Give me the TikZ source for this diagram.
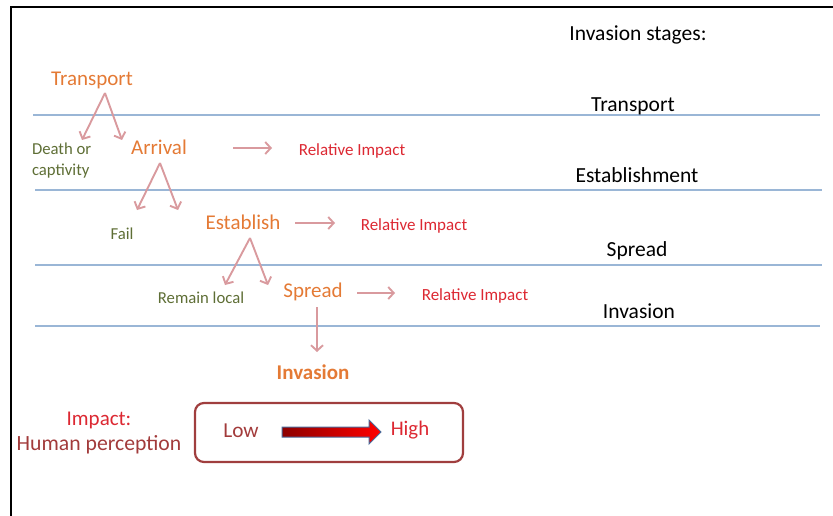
\documentclass[tikz,border=0pt]{standalone}
\usepackage{fontspec}
\setmainfont{Carlito}
\usetikzlibrary{arrows.meta}

\definecolor{stageorange}{HTML}{E47A35}
\definecolor{impactred}{HTML}{DC2832}
\definecolor{outcomegreen}{HTML}{5E6E35}
\definecolor{flowpink}{HTML}{D99A9E}
\definecolor{bandblue}{HTML}{9AB6D6}
\definecolor{boxred}{HTML}{A03E3E}
\definecolor{perceptred}{HTML}{A23B3B}
\definecolor{arrowedge}{HTML}{4A6A9A}

\tikzset{
  txt/.style={inner sep=0pt, outer sep=0pt, yshift=-1.5pt},
  stagename/.style={txt, font=\fontsize{21.5}{25}\selectfont},
  stage/.style={txt, text=stageorange, font=\fontsize{21}{25}\selectfont},
  outcome/.style={txt, text=outcomegreen, font=\fontsize{16.7}{20.5}\selectfont, align=left},
  relimpact/.style={txt, text=impactred, font=\fontsize{17}{20}\selectfont},
  band/.style={bandblue, line width=1.3pt},
  flow/.style={flowpink, line width=1.9pt, -{Straight Barb[length=5.5pt,width=12pt]}},
}

\begin{document}
\begin{tikzpicture}[x=1pt,y=-1pt]
\useasboundingbox (0,0) rectangle (833,516);

% frame
\draw[line width=2.4pt] (11,516) -- (11,7) -- (833,7);

% stage bands
\draw[band] (33,115) -- (820,115);
\draw[band] (35,190) -- (822,190);
\draw[band] (35,265) -- (822,265);
\draw[band] (35,326) -- (820,326);

% stage names on the right
\node[stagename] (title) at (638,33) {Invasion stages:};
\node[stagename] (sTransport) at (633,105) {Transport};
\node[stagename] (sEstablishment) at (637,174) {Establishment};
\node[stagename] (sSpread) at (637,249) {Spread};
\node[stagename] (sInvasion) at (639,310) {Invasion};

% pathway stages
\node[stage] (transport) at (92,79) {Transport};
\node[stage] (arrival) at (159,146) {Arrival};
\node[stage] (establish) at (243,221) {Establish};
\node[stage] (spread) at (313,290) {Spread};
\node[stage, font=\bfseries\fontsize{21}{25}\selectfont] (invasion) at (313,371) {Invasion};

% outcomes that leave the pathway
\node[outcome, anchor=west] (death) at (32,159) {Death or\\captivity};
\node[outcome] (fail) at (122,232) {Fail};
\node[outcome] (local) at (201,296) {Remain local};

% relative impacts
\node[relimpact] (ri1) at (352,149) {Relative Impact};
\node[relimpact] (ri2) at (414,224) {Relative Impact};
\node[relimpact] (ri3) at (475,294) {Relative Impact};

% branch points
\coordinate (tApex) at (105,93);
\coordinate (tLeft) at (82,140);
\coordinate (tRight) at (122,140);
\coordinate (aApex) at (160,163);
\coordinate (aLeft) at (137,210);
\coordinate (aRight) at (178,210);
\coordinate (eApex) at (250,238);
\coordinate (eLeft) at (225,285);
\coordinate (eRight) at (268,285);
\coordinate (sTop) at (317,307);
\coordinate (sEnd) at (317,352);

\draw[flow] (tApex) -- (tLeft);
\draw[flow] (tApex) -- (tRight);
\draw[flow] (aApex) -- (aLeft);
\draw[flow] (aApex) -- (aRight);
\draw[flow] (eApex) -- (eLeft);
\draw[flow] (eApex) -- (eRight);
\draw[flow] (sTop) -- (sEnd);

% arrows towards the relative impacts
\coordinate (r1a) at (233,148);
\coordinate (r1b) at (272,148);
\coordinate (r2a) at (295,223);
\coordinate (r2b) at (335,223);
\coordinate (r3a) at (357,293);
\coordinate (r3b) at (395,293);
\draw[flow] (r1a) -- (r1b);
\draw[flow] (r2a) -- (r2b);
\draw[flow] (r3a) -- (r3b);

% impact legend
\node[txt, text=impactred, font=\fontsize{21}{24}\selectfont] (impact) at (99,419) {Impact:};
\node[txt, text=perceptred, font=\fontsize{21.7}{24}\selectfont] (percept) at (99,443) {Human perception};

\draw[boxred, line width=2.2pt, rounded corners=9pt] (195,403) rectangle (463,462);
\node[txt, text=perceptred, font=\fontsize{21.3}{24}\selectfont] (low) at (241,429) {Low};
\node[txt, text=impactred, font=\fontsize{20.8}{24}\selectfont] (high) at (410,429) {High};

% low-to-high arrow with a red gradient
\shade[left color=red!55!black, right color=red]
  (282,427) -- (369,427) -- (369,420) -- (381,432) -- (369,444) -- (369,437) -- (282,437) -- cycle;
\draw[arrowedge, line width=1pt, line join=miter]
  (282,427) -- (369,427) -- (369,420) -- (381,432) -- (369,444) -- (369,437) -- (282,437) -- cycle;

\end{tikzpicture}
\end{document}
